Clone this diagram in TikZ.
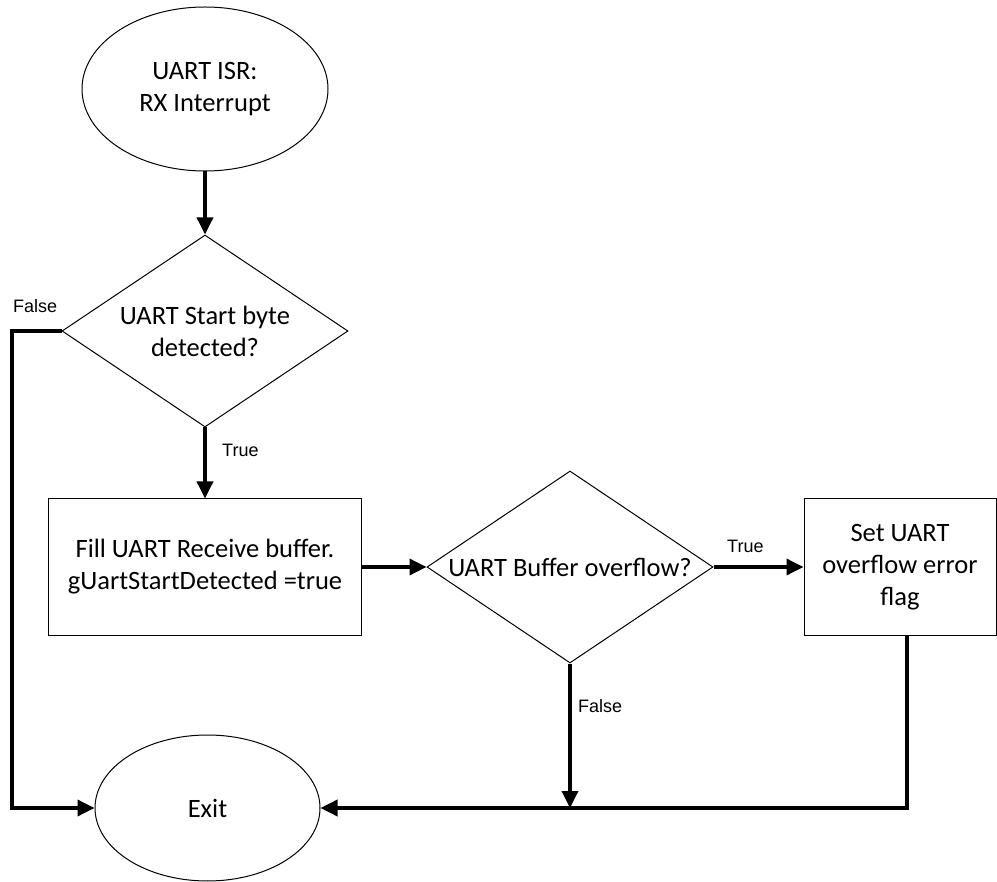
\documentclass[tikz,border=0pt]{standalone}
\usepackage{fontspec}
\setmainfont{Carlito}
\newfontfamily\labelfont{Liberation Sans}
\usetikzlibrary{shapes.geometric,arrows.meta}
\begin{document}
\begin{tikzpicture}[x=1pt,y=-1pt,
  shapeline/.style={draw=black,line width=1pt,fill=white,inner sep=0pt,align=center,
    font=\fontsize{26.5}{32}\selectfont},
  term/.style={shapeline,ellipse},
  dec/.style={shapeline,diamond,aspect=1.49,minimum width=286pt,minimum height=192pt},
  proc/.style={shapeline,rectangle,minimum height=136pt},
  flow/.style={line width=3.5pt,-{Triangle[length=17pt,width=16pt]}},
  lbl/.style={anchor=base west,inner sep=0pt,font=\labelfont\fontsize{18}{20}\selectfont}]
\useasboundingbox (0,0) rectangle (997,882);
\node[term,minimum width=246pt,minimum height=164pt] (start) at (205,89) {UART ISR:\\RX Interrupt};
\node[dec] (d1) at (205,331) {UART Start byte\\detected?};
\node[proc,minimum width=313pt] (box1) at (205,567) {Fill UART Receive buffer.\\gUartStartDetected =true};
\node[dec] (d2) at (570,567) {UART Buffer overflow?};
\node[proc,minimum width=192pt] (box3) at (900,567) {Set UART\\overflow error\\flag};
\node[term,minimum width=225pt,minimum height=146pt] (exit) at (207.5,808) {Exit};
\coordinate (lc) at (12,331);
\draw[flow] (start.south) -- (d1.north);
\draw[flow] (d1.south) -- (box1.north);
\draw[flow] (d1.west) -- (lc) |- (exit.west);
\draw[flow] (box1.east) -- (d2.west);
\draw[flow] (d2.east) -- (box3.west);
\draw[flow] (d2.south) -- (d2.south |- exit.east);
\draw[flow] ([xshift=7pt]box3.south) |- (exit.east);
\node[lbl] (lf1) at (13,313) {False};
\node[lbl] (lt1) at (222,457) {True};
\node[lbl] (lt2) at (727,553) {True};
\node[lbl] (lf2) at (578,712) {False};
\end{tikzpicture}
\end{document}
